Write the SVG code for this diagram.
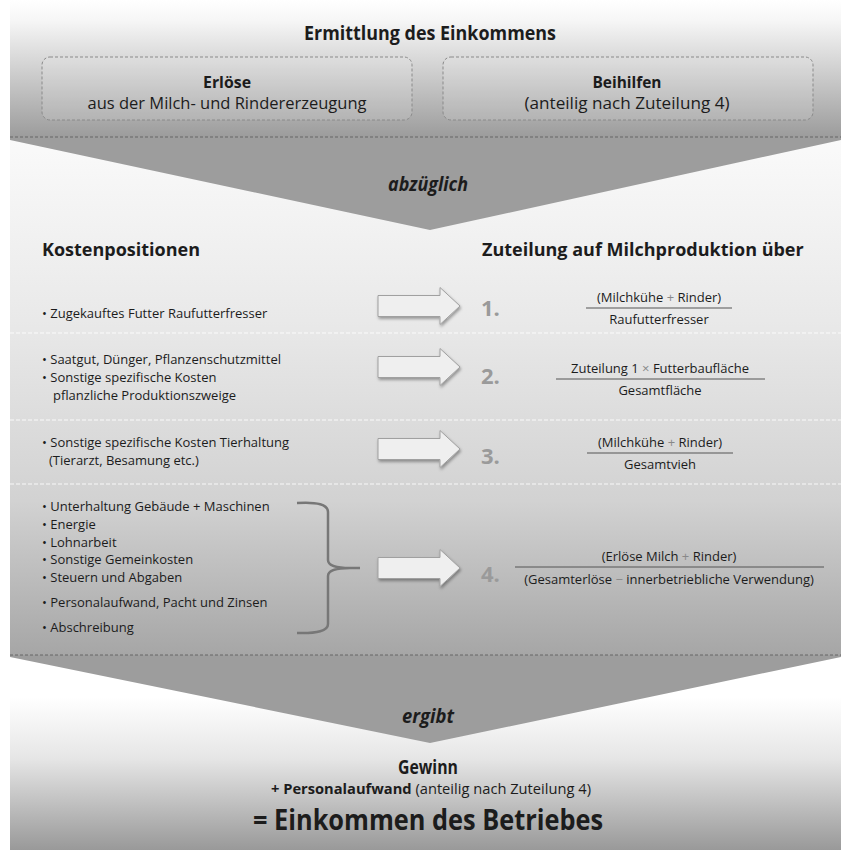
<svg xmlns="http://www.w3.org/2000/svg" width="841" height="850" viewBox="0 0 841 850">
<style>
.t{font-family:"Open Sans","Liberation Sans",sans-serif;fill:#1c1c1c}
.c{font-family:"Open Sans","Liberation Sans",sans-serif;fill:#1c1c1c}
.b{font-weight:bold}
.it{font-style:italic;font-weight:bold}
.item{font-size:13px}
.frac{font-size:13px;text-anchor:middle}
.num{font-family:"Open Sans","Liberation Sans",sans-serif;font-weight:bold;font-size:22px;fill:#9a9a9a}
.fl{stroke:#555;stroke-width:1}
.pl{fill:#888}
.rowsep{stroke:#ffffff;stroke-opacity:0.85;stroke-width:1;stroke-dasharray:4 2}
.sep{stroke:#666;stroke-width:1.2;stroke-dasharray:3 2}
.box{fill:#ffffff;fill-opacity:0.12;stroke:#8a8a8a;stroke-width:1;stroke-dasharray:3 2}
.arrow{fill:#efefef;stroke:#a0a0a0;stroke-width:1;filter:url(#sh)}
</style>
<defs>
<linearGradient id="gTop" x1="0" y1="0" x2="0" y2="1">
<stop offset="0" stop-color="#ffffff"/>
<stop offset="0.15" stop-color="#f6f6f6"/>
<stop offset="1" stop-color="#9c9c9c"/>
</linearGradient>
<linearGradient id="gMid" x1="0" y1="0" x2="0" y2="1">
<stop offset="0" stop-color="#fafafa"/>
<stop offset="0.35" stop-color="#e9e9e9"/>
<stop offset="0.7" stop-color="#d2d2d2"/>
<stop offset="1" stop-color="#a6a6a6"/>
</linearGradient>
<linearGradient id="gBot" x1="0" y1="0" x2="0" y2="1">
<stop offset="0" stop-color="#ffffff"/>
<stop offset="0.4" stop-color="#e6e6e6"/>
<stop offset="1" stop-color="#999999"/>
</linearGradient>
<filter id="sh" x="-20%" y="-30%" width="150%" height="170%">
<feDropShadow dx="1" dy="2" stdDeviation="1.5" flood-color="#000" flood-opacity="0.35"/>
</filter>
<path id="arr" d="M378,-10.5 H440 V-18.5 L460,0 L440,18.5 V10.5 H378 Z"/>
</defs>

<rect x="0" y="0" width="841" height="850" fill="#ffffff"/>

<g id="panel-top">
<rect x="10" y="0" width="831" height="137" fill="url(#gTop)"/>
</g>
<g id="panel-middle">
<rect x="10" y="140" width="831" height="515" fill="url(#gMid)"/>
</g>
<g id="panel-bottom">
<rect x="10" y="697" width="831" height="153" fill="url(#gBot)"/>
</g>

<g id="chevron-abzueglich">
<path d="M10,137 H841 V140 L430,230 L10,140 Z" fill="#9d9d9d"/>
<line class="sep" x1="10" y1="137" x2="841" y2="137"/>
<text class="c it" x="428" y="191" font-size="19" text-anchor="middle" textLength="80" lengthAdjust="spacingAndGlyphs">abzüglich</text>
</g>

<g id="chevron-ergibt">
<path d="M10,655 H841 V657 L430,743 L10,657 Z" fill="#9d9d9d"/>
<line class="sep" x1="10" y1="655" x2="841" y2="655"/>
<text class="c it" x="428" y="723" font-size="19" text-anchor="middle" textLength="52" lengthAdjust="spacingAndGlyphs">ergibt</text>
</g>

<g id="title">
<text class="c b" x="430" y="40" font-size="20" text-anchor="middle" textLength="252" lengthAdjust="spacingAndGlyphs">Ermittlung des Einkommens</text>
</g>

<g id="box-erloese">
<rect class="box" x="42" y="57" width="370" height="63" rx="8"/>
<text class="c b" x="227" y="88" font-size="16" text-anchor="middle" textLength="48" lengthAdjust="spacingAndGlyphs">Erlöse</text>
<text class="c" x="227" y="109" font-size="16" text-anchor="middle" textLength="279" lengthAdjust="spacingAndGlyphs">aus der Milch- und Rindererzeugung</text>
</g>

<g id="box-beihilfen">
<rect class="box" x="443" y="57" width="370" height="63" rx="8"/>
<text class="c b" x="627" y="88" font-size="16" text-anchor="middle" textLength="69" lengthAdjust="spacingAndGlyphs">Beihilfen</text>
<text class="c" x="627" y="109" font-size="16" text-anchor="middle" textLength="205" lengthAdjust="spacingAndGlyphs">(anteilig nach Zuteilung 4)</text>
</g>

<g id="headers">
<text class="t b" x="42" y="256" font-size="18">Kostenpositionen</text>
<text class="t b" x="482" y="256" font-size="18">Zuteilung auf Milchproduktion über</text>
</g>

<g id="row-separators">
<line class="rowsep" x1="10" y1="333" x2="841" y2="333"/>
<line class="rowsep" x1="10" y1="420" x2="841" y2="420"/>
<line class="rowsep" x1="10" y1="484" x2="841" y2="484"/>
</g>

<g id="row1">
<text class="t item" x="42" y="318">• Zugekauftes Futter Raufutterfresser</text>
</g>
<g id="row2">
<text class="t item" x="42" y="364">• Saatgut, Dünger, Pflanzenschutzmittel</text>
<text class="t item" x="42" y="382">• Sonstige spezifische Kosten</text>
<text class="t item" x="53" y="400">pflanzliche Produktionszweige</text>
</g>
<g id="row3">
<text class="t item" x="42" y="447">• Sonstige spezifische Kosten Tierhaltung</text>
<text class="t item" x="49" y="465">(Tierarzt, Besamung etc.)</text>
</g>
<g id="row4">
<text class="t item" x="42" y="511">• Unterhaltung Gebäude + Maschinen</text>
<text class="t item" x="42" y="529">• Energie</text>
<text class="t item" x="42" y="547">• Lohnarbeit</text>
<text class="t item" x="42" y="564">• Sonstige Gemeinkosten</text>
<text class="t item" x="42" y="582">• Steuern und Abgaben</text>
<text class="t item" x="42" y="607">• Personalaufwand, Pacht und Zinsen</text>
<text class="t item" x="42" y="632">• Abschreibung</text>
<path d="M297,503 Q328,501 328,512 V560 Q328,568 350,568 H360 M350,568 Q328,568 328,576 V624 Q328,634 297,633" fill="none" stroke="#777" stroke-width="2.5"/>
</g>

<g id="connectors">
<use href="#arr" class="arrow" transform="translate(0,306)"/>
<use href="#arr" class="arrow" transform="translate(0,367)"/>
<use href="#arr" class="arrow" transform="translate(0,449)"/>
<use href="#arr" class="arrow" transform="translate(0,568)"/>
</g>

<g id="rule1">
<text class="num" x="481" y="316">1.</text>
<text class="t frac" x="659" y="302">(Milchkühe <tspan class="pl">+</tspan> Rinder)</text>
<line class="fl" x1="586" y1="308" x2="732" y2="308"/>
<text class="t frac" x="659" y="324">Raufutterfresser</text>
</g>
<g id="rule2">
<text class="num" x="481" y="384">2.</text>
<text class="t frac" x="660" y="373">Zuteilung 1 <tspan class="pl">×</tspan> Futterbaufläche</text>
<line class="fl" x1="556" y1="379" x2="765" y2="379"/>
<text class="t frac" x="660" y="395">Gesamtfläche</text>
</g>
<g id="rule3">
<text class="num" x="481" y="464">3.</text>
<text class="t frac" x="660" y="447">(Milchkühe <tspan class="pl">+</tspan> Rinder)</text>
<line class="fl" x1="587" y1="453" x2="733" y2="453"/>
<text class="t frac" x="660" y="469">Gesamtvieh</text>
</g>
<g id="rule4">
<text class="num" x="481" y="582">4.</text>
<text class="t frac" x="669" y="561">(Erlöse Milch <tspan class="pl">+</tspan> Rinder)</text>
<line class="fl" x1="515" y1="567" x2="824" y2="567"/>
<text class="t frac" x="669" y="584">(Gesamterlöse <tspan class="pl">−</tspan> innerbetriebliche Verwendung)</text>
</g>

<g id="result">
<text class="c b" x="428" y="774" font-size="20" text-anchor="middle" textLength="60" lengthAdjust="spacingAndGlyphs">Gewinn</text>
<text class="c" x="431" y="794" font-size="14" text-anchor="middle" textLength="320" lengthAdjust="spacingAndGlyphs"><tspan font-weight="bold">+ Personalaufwand</tspan> (anteilig nach Zuteilung 4)</text>
<text class="c b" x="428" y="830" font-size="29" text-anchor="middle" textLength="350" lengthAdjust="spacingAndGlyphs">= Einkommen des Betriebes</text>
</g>
</svg>
